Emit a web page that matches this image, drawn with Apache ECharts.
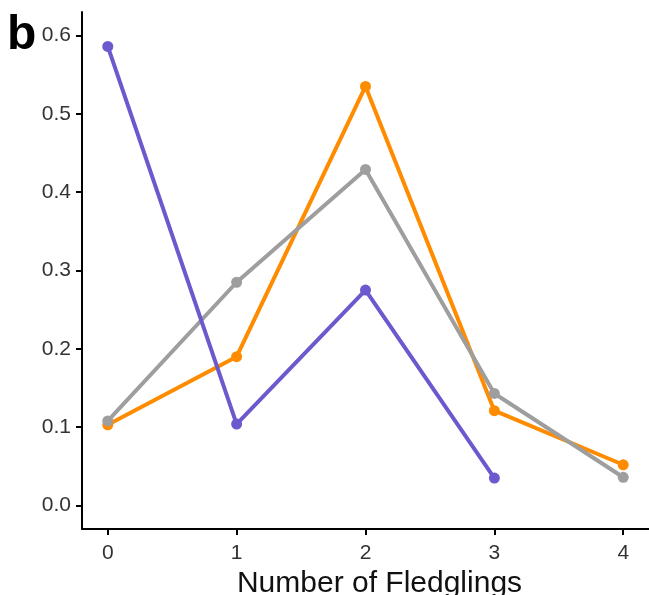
<!DOCTYPE html>
<html>
<head>
<meta charset="utf-8">
<script src="https://cdn.jsdelivr.net/npm/echarts@6/dist/echarts.min.js"></script>
<style>html,body{margin:0;padding:0;background:#fff}#c{width:649px;height:595px}</style>
</head>
<body>
<div id="c"></div>
<script>
const categories = [0, 1, 2, 3, 4];
const yTicks = [0, 0.1, 0.2, 0.3, 0.4, 0.5, 0.6];
const purpleValues = [0.586, 0.104, 0.275, 0.035];
const orangeValues = [0.103, 0.190, 0.535, 0.121, 0.052];
const greyValues = [0.108, 0.285, 0.429, 0.143, 0.036];

function pairs(vals) { return vals.map((v, i) => [categories[i], v]); }

const chart = echarts.init(document.getElementById('c'));
const lineSeries = (name, vals, color) => ({
  name, type: 'line', data: pairs(vals),
  symbol: 'circle', symbolSize: 11,
  lineStyle: { width: 4, color },
  itemStyle: { color },
  animation: false
});
chart.setOption({
  animation: false,
  graphic: [{ type: 'text', left: 7, top: 12, style: { text: 'b', font: 'bold 48px "Liberation Sans", Arial, sans-serif', fill: '#000' } }],
  grid: { left: 82, right: 0, top: 12, bottom: 66, containLabel: false, outerBoundsMode: 'none' },
  xAxis: {
    type: 'value', min: -0.2, max: 4.2,
    name: 'Number of Fledglings', nameLocation: 'middle', nameGap: 40,
    nameTextStyle: { fontSize: 30, color: '#111', fontFamily: 'Liberation Sans', padding: [0, 0, 0, 28] },
    axisLine: { onZero: false, lineStyle: { color: '#000', width: 2 } },
    axisTick: { show: true, length: 6, lineStyle: { color: '#000', width: 2 }, customValues: categories },
    axisLabel: { customValues: categories, fontSize: 21, color: '#333', fontFamily: 'Liberation Sans', margin: 14 },
    splitLine: { show: false }
  },
  yAxis: {
    type: 'value', min: -0.03, max: 0.63,
    axisLine: { show: true, onZero: false, lineStyle: { color: '#000', width: 2 } },
    axisTick: { show: true, length: 6, lineStyle: { color: '#000', width: 2 }, customValues: yTicks },
    axisLabel: { customValues: yTicks, fontSize: 21, color: '#333', fontFamily: 'Liberation Sans', margin: 11, formatter: v => v.toFixed(1) },
    splitLine: { show: false }
  },
  series: [
    lineSeries('orange', orangeValues, '#FF8C00'),
    lineSeries('grey', greyValues, '#9E9E9E'),
    lineSeries('purple', purpleValues, '#6A5ACD')
  ]
});
</script>
</body>
</html>
